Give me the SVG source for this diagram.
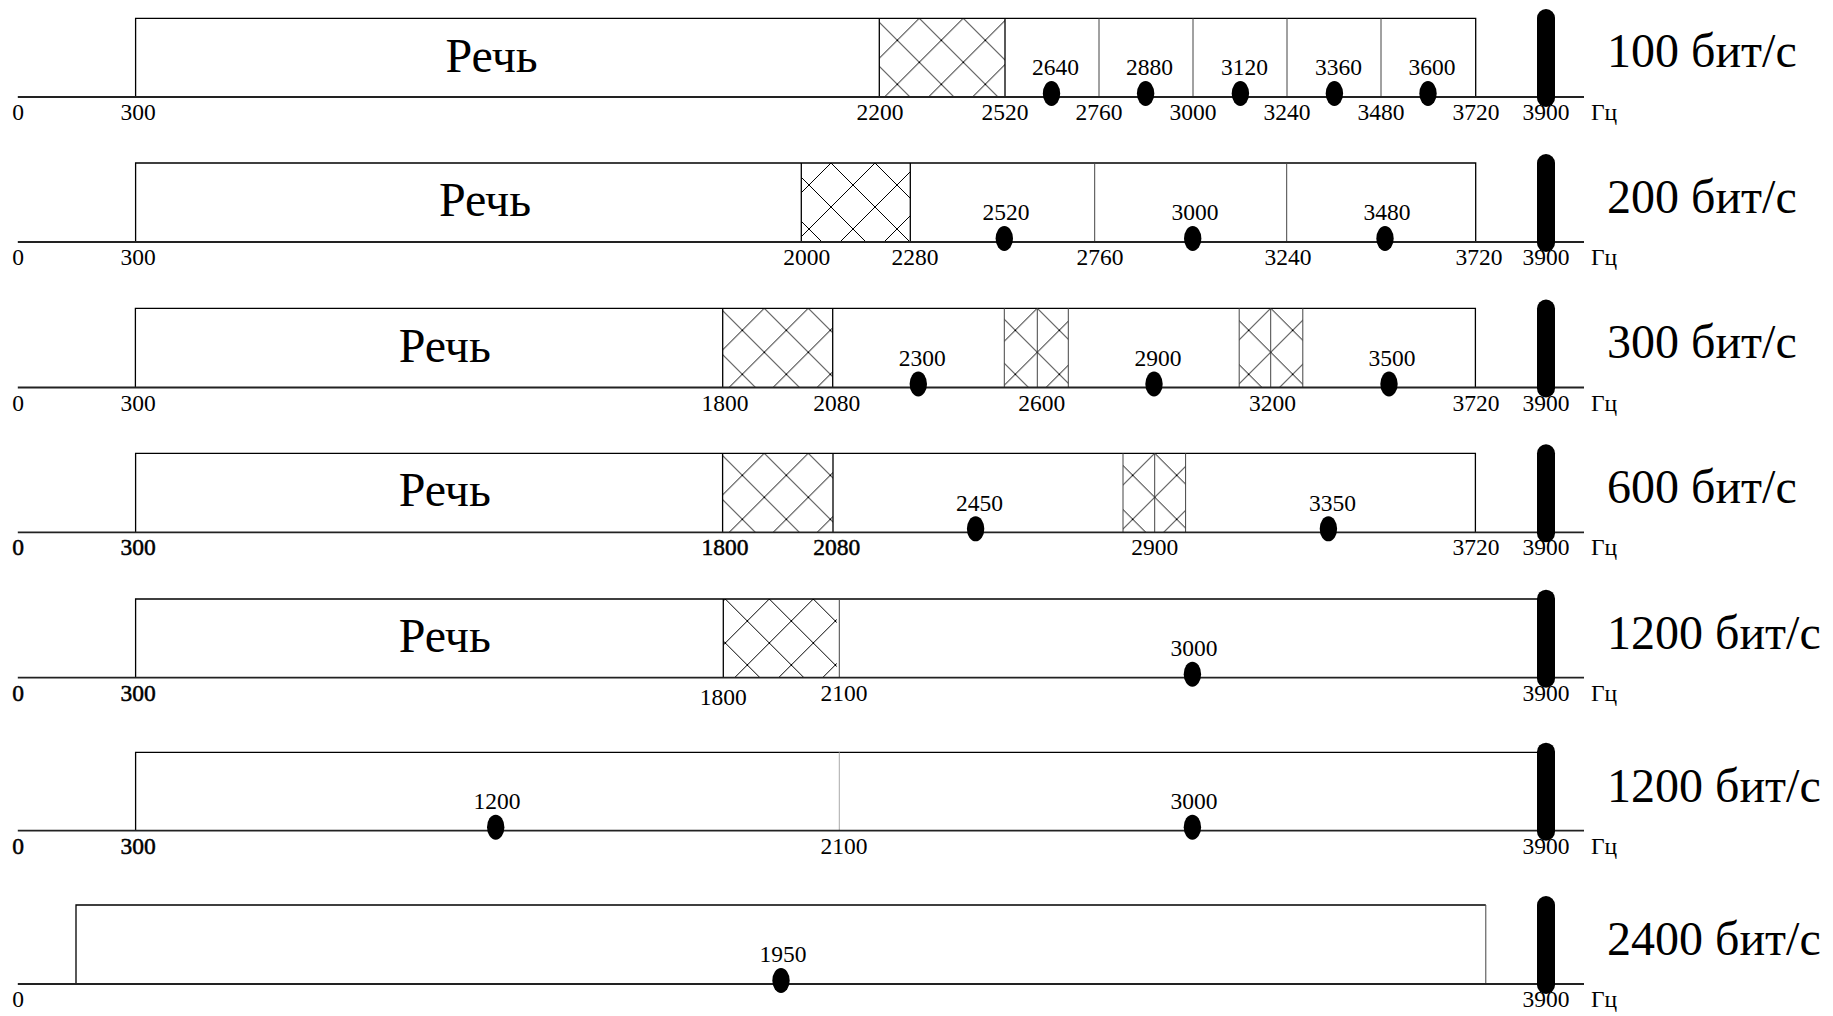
<svg xmlns="http://www.w3.org/2000/svg" width="1833" height="1016" viewBox="0 0 1833 1016">
<style>
.ax{stroke:#222;stroke-width:1.8;fill:none}
.bx{fill:none;stroke:#000;stroke-width:1.3}
.dv{stroke:#444;stroke-width:1;fill:none}
.lt{stroke:#aaa;stroke-width:1;fill:none}
.dot{fill:#000}
.bar{fill:#000}
.t{font-family:"Liberation Serif","Times New Roman",serif;font-size:23.5px;text-anchor:middle;fill:#000}
.hz{font-family:"Liberation Serif","Times New Roman",serif;font-size:23.5px;fill:#000}
.b{stroke:#000;stroke-width:0.5}
.rc{font-family:"Liberation Serif","Times New Roman",serif;font-size:48px;text-anchor:middle;fill:#000}
.sp{font-family:"Liberation Serif","Times New Roman",serif;font-size:48px;fill:#000}
.hatch{fill:url(#hx)}
</style>
<defs>
<pattern id="hx" width="44" height="44" patternUnits="userSpaceOnUse">
<path d="M-2,-2L46,46M46,-2L-2,46" stroke="#000" stroke-width="1"/>
</pattern>
</defs>
<rect width="1833" height="1016" fill="#fff"/>

<g id="row-100">
<g transform="translate(919.3,18.3)"><rect class="hatch" x="-40" y="0" width="125.7" height="78.7"/></g>
<path class="bx" d="M135.6,97V18.3H1475.7V97"/>
<path class="bx" d="M879.3,18.3V97M1005,18.3V97"/>
<path class="dv" d="M1099,18.3V97M1193,18.3V97M1287,18.3V97M1381,18.3V97"/>
<line class="ax" x1="17.8" y1="97" x2="1584" y2="97"/>
<ellipse class="dot" cx="1051.5" cy="93.5" rx="8.7" ry="12.5"/>
<ellipse class="dot" cx="1145.6" cy="93.5" rx="8.7" ry="12.5"/>
<ellipse class="dot" cx="1240.4" cy="93.5" rx="8.7" ry="12.5"/>
<ellipse class="dot" cx="1334.4" cy="93.5" rx="8.7" ry="12.5"/>
<ellipse class="dot" cx="1428" cy="93.5" rx="8.7" ry="12.5"/>
<rect class="bar" x="1537" y="9" width="18" height="98" rx="9"/>
<text class="t" x="1055.5" y="75">2640</text>
<text class="t" x="1149.6" y="75">2880</text>
<text class="t" x="1244.4" y="75">3120</text>
<text class="t" x="1338.4" y="75">3360</text>
<text class="t" x="1432" y="75">3600</text>
<text class="t" x="18" y="120">0</text>
<text class="t" x="138" y="120">300</text>
<text class="t" x="880" y="120">2200</text>
<text class="t" x="1005" y="120">2520</text>
<text class="t" x="1099" y="120">2760</text>
<text class="t" x="1193" y="120">3000</text>
<text class="t" x="1287" y="120">3240</text>
<text class="t" x="1381" y="120">3480</text>
<text class="t" x="1476" y="120">3720</text>
<text class="t" x="1546" y="120">3900</text>
<text class="hz" x="1591" y="120">Гц</text>
<text class="rc" x="491.6" y="72">Речь</text>
<text class="sp" x="1607" y="67">100 бит/с</text>
</g>

<g id="row-200">
<g transform="translate(831,163)"><rect class="hatch" x="-29.7" y="0" width="109" height="79"/></g>
<path class="bx" d="M135.6,242V163H1475.7V242"/>
<path class="bx" d="M801.3,163V242M910.3,163V242"/>
<path class="dv" d="M1094.7,163V242M1286.7,163V242"/>
<line class="ax" x1="17.8" y1="242" x2="1584" y2="242"/>
<ellipse class="dot" cx="1004.3" cy="238.5" rx="8.7" ry="12.5"/>
<ellipse class="dot" cx="1192.7" cy="238.5" rx="8.7" ry="12.5"/>
<ellipse class="dot" cx="1385" cy="238.5" rx="8.7" ry="12.5"/>
<rect class="bar" x="1537" y="154" width="18" height="98" rx="9"/>
<text class="t" x="1006" y="220">2520</text>
<text class="t" x="1195" y="220">3000</text>
<text class="t" x="1387" y="220">3480</text>
<text class="t" x="18" y="265">0</text>
<text class="t" x="138" y="265">300</text>
<text class="t" x="806.7" y="265">2000</text>
<text class="t" x="915" y="265">2280</text>
<text class="t" x="1100" y="265">2760</text>
<text class="t" x="1288" y="265">3240</text>
<text class="t" x="1479" y="265">3720</text>
<text class="t" x="1546" y="265">3900</text>
<text class="hz" x="1591" y="265">Гц</text>
<text class="rc" x="485" y="216">Речь</text>
<text class="sp" x="1607" y="213">200 бит/с</text>
</g>

<g id="row-300">
<g transform="translate(764.3,308.3)"><rect class="hatch" x="-41.6" y="0" width="110" height="79.2"/></g>
<g transform="translate(1037.3,308.3)"><rect class="hatch" x="-33" y="0" width="64" height="79.2"/></g>
<g transform="translate(1270.7,308.3)"><rect class="hatch" x="-31.5" y="0" width="63.6" height="79.2"/></g>
<path class="bx" d="M135.4,387.5V308.3H1475.4V387.5"/>
<path class="bx" d="M722.7,308.3V387.5M832.7,308.3V387.5"/>
<path class="dv" d="M1004.3,308.3V387.5M1037.3,308.3V387.5M1068.3,308.3V387.5M1239.2,308.3V387.5M1270.7,308.3V387.5M1302.8,308.3V387.5"/>
<line class="ax" x1="17.8" y1="387.5" x2="1584" y2="387.5"/>
<ellipse class="dot" cx="918.3" cy="384" rx="8.7" ry="12.5"/>
<ellipse class="dot" cx="1154" cy="384" rx="8.7" ry="12.5"/>
<ellipse class="dot" cx="1389" cy="384" rx="8.7" ry="12.5"/>
<rect class="bar" x="1537" y="299.5" width="18" height="98" rx="9"/>
<text class="t" x="922.3" y="366">2300</text>
<text class="t" x="1158" y="366">2900</text>
<text class="t" x="1392" y="366">3500</text>
<text class="t" x="18" y="410.5">0</text>
<text class="t" x="138" y="410.5">300</text>
<text class="t" x="725" y="410.5">1800</text>
<text class="t" x="836.7" y="410.5">2080</text>
<text class="t" x="1041.7" y="410.5">2600</text>
<text class="t" x="1272.5" y="410.5">3200</text>
<text class="t" x="1476" y="410.5">3720</text>
<text class="t" x="1546" y="410.5">3900</text>
<text class="hz" x="1591" y="410.5">Гц</text>
<text class="rc" x="444.8" y="362">Речь</text>
<text class="sp" x="1607" y="358">300 бит/с</text>
</g>

<g id="row-600">
<g transform="translate(764.3,453.3)"><rect class="hatch" x="-41.7" y="0" width="110.4" height="79"/></g>
<g transform="translate(1154.7,453.3)"><rect class="hatch" x="-31.7" y="0" width="62.6" height="79"/></g>
<path class="bx" d="M135.6,532.3V453.3H1475.4V532.3"/>
<path class="bx" d="M722.6,453.3V532.3M833,453.3V532.3"/>
<path class="dv" d="M1123,453.3V532.3M1154.7,453.3V532.3M1185.6,453.3V532.3"/>
<line class="ax" x1="17.8" y1="532.3" x2="1584" y2="532.3"/>
<ellipse class="dot" cx="975.6" cy="528.8" rx="8.7" ry="12.5"/>
<ellipse class="dot" cx="1328.4" cy="528.8" rx="8.7" ry="12.5"/>
<rect class="bar" x="1537" y="444.3" width="18" height="98" rx="9"/>
<text class="t" x="979.6" y="510.5">2450</text>
<text class="t" x="1332.4" y="510.5">3350</text>
<text class="t b" x="18" y="555.3">0</text>
<text class="t b" x="138" y="555.3">300</text>
<text class="t b" x="725" y="555.3">1800</text>
<text class="t b" x="836.7" y="555.3">2080</text>
<text class="t" x="1154.7" y="555.3">2900</text>
<text class="t" x="1476" y="555.3">3720</text>
<text class="t" x="1546" y="555.3">3900</text>
<text class="hz" x="1591" y="555.3">Гц</text>
<text class="rc" x="444.8" y="506">Речь</text>
<text class="sp" x="1607" y="503">600 бит/с</text>
</g>

<g id="row-1200a">
<g transform="translate(769.3,599)"><rect class="hatch" x="-46" y="0" width="113.5" height="78.7"/></g>
<path class="bx" d="M135.6,677.7V599H1545"/>
<path class="bx" d="M723.3,599V677.7"/>
<path class="dv" d="M839.3,599V677.7"/>
<line class="ax" x1="17.8" y1="677.7" x2="1584" y2="677.7"/>
<ellipse class="dot" cx="1192.4" cy="674.2" rx="8.7" ry="12.5"/>
<rect class="bar" x="1537" y="589.7" width="18" height="98" rx="9"/>
<text class="t" x="1194" y="656">3000</text>
<text class="t b" x="18" y="700.7">0</text>
<text class="t b" x="138" y="700.7">300</text>
<text class="t" x="723.3" y="705">1800</text>
<text class="t" x="844" y="700.7">2100</text>
<text class="t" x="1546" y="700.7">3900</text>
<text class="hz" x="1591" y="700.7">Гц</text>
<text class="rc" x="444.8" y="652">Речь</text>
<text class="sp" x="1607" y="649">1200 бит/с</text>
</g>

<g id="row-1200b">
<path class="bx" d="M135.6,830.7V752.3H1545"/>
<path class="lt" d="M839.3,752.3V830.7"/>
<line class="ax" x1="17.8" y1="830.7" x2="1584" y2="830.7"/>
<ellipse class="dot" cx="495.7" cy="827.2" rx="8.7" ry="12.5"/>
<ellipse class="dot" cx="1192.4" cy="827.2" rx="8.7" ry="12.5"/>
<rect class="bar" x="1537" y="742.7" width="18" height="98" rx="9"/>
<text class="t" x="497" y="809">1200</text>
<text class="t" x="1194" y="809">3000</text>
<text class="t b" x="18" y="853.7">0</text>
<text class="t b" x="138" y="853.7">300</text>
<text class="t" x="844" y="853.7">2100</text>
<text class="t" x="1546" y="853.7">3900</text>
<text class="hz" x="1591" y="853.7">Гц</text>
<text class="sp" x="1607" y="802">1200 бит/с</text>
</g>

<g id="row-2400">
<path class="bx" d="M76,984V905H1485.8"/>
<path class="dv" d="M1485.8,905V984"/>
<line class="ax" x1="17.8" y1="984" x2="1584" y2="984"/>
<ellipse class="dot" cx="781" cy="980.5" rx="8.7" ry="12.5"/>
<rect class="bar" x="1537" y="896" width="18" height="98" rx="9"/>
<text class="t" x="783" y="962">1950</text>
<text class="t" x="18" y="1007">0</text>
<text class="t" x="1546" y="1007">3900</text>
<text class="hz" x="1591" y="1007">Гц</text>
<text class="sp" x="1607" y="955">2400 бит/с</text>
</g>
</svg>
